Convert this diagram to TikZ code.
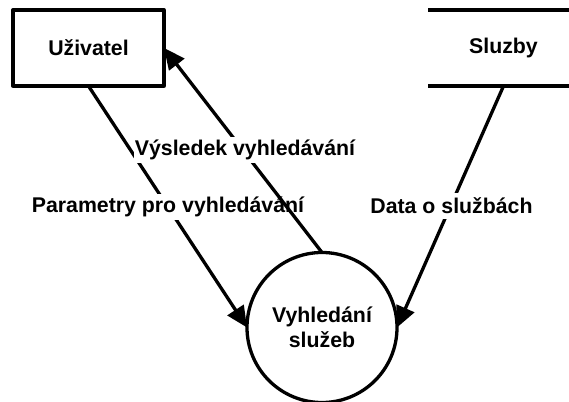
\documentclass[tikz,border=0pt]{standalone}
\usepackage{fontspec}
\setmainfont{Liberation Sans}
\usetikzlibrary{arrows.meta}
\tikzset{
  x=1pt,y=-1pt,
  txt/.style={font=\fontsize{21.3}{25}\selectfont\bfseries,text=black,align=center,inner sep=0pt},
  ent/.style={txt,line width=3.3pt,minimum width=151pt,minimum height=76pt,outer sep=0pt},
  proc/.style={txt,circle,draw,fill=white,line width=3.3pt,minimum size=150pt,outer sep=0pt},
  flow/.style={line width=3.3pt,-{Triangle[length=21pt,width=19pt]}},
  lab/.style={txt,fill=white,inner xsep=1pt,inner ysep=0pt,minimum height=26pt}
}
\begin{document}
\begin{tikzpicture}
\useasboundingbox (0,0) rectangle (569,401);
\node[ent,draw,line join=round] (user) at (88.5,48) {Uživatel};
\node[ent] (store) at (503.5,48) {Sluzby};
\draw[line width=3.3pt] (store.north west) -- (store.north east);
\draw[line width=3.3pt] (store.south west) -- (store.south east);
\node[proc] (search) at (322,327.5) {Vyhledání\\služeb};
\draw[flow] (user.south) -- (search.west);
\node[lab] (lparam) at (168,206.5) {Parametry pro vyhledávání};
\draw[flow] (search.north) -- (user.east);
\node[lab] (lres) at (245,149.5) {Výsledek vyhledávání};
\draw[flow] (store.south) -- (search.east);
\node[lab] (ldata) at (451.5,206) {Data o službách};
\end{tikzpicture}
\end{document}
